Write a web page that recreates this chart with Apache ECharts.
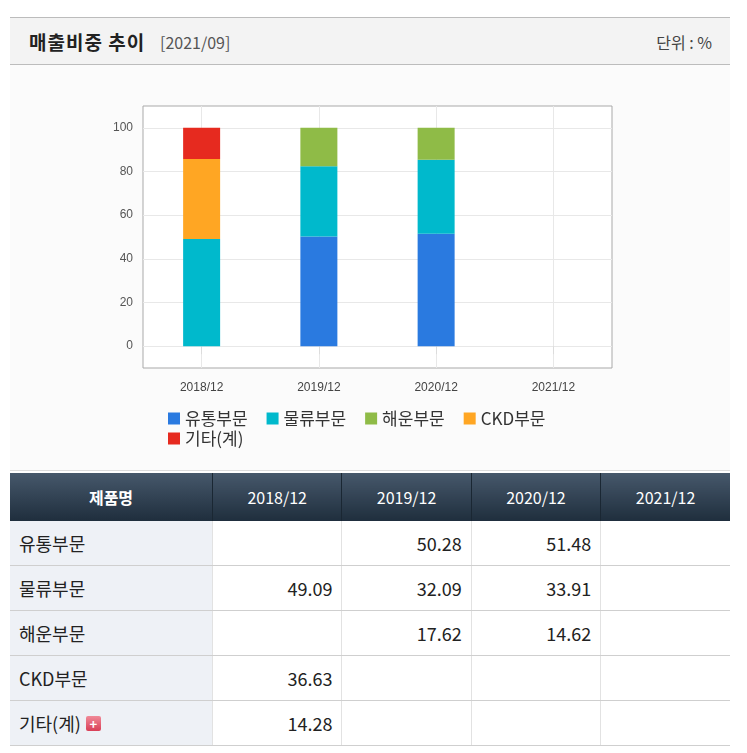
<!DOCTYPE html>
<html>
<head>
<meta charset="utf-8">
<script src="https://cdn.jsdelivr.net/npm/echarts@6/dist/echarts.min.js"></script>
<style>
  body { margin: 0; background: #fff; font-family: "Noto Sans CJK KR", "Noto Sans", sans-serif; }
  #head { position: absolute; left: 10px; top: 17px; width: 720px; height: 46px;
    background: #f3f3f3; border-top: 1px solid #bcbcbc; border-bottom: 1px solid #bcbcbc; }
  #head .t { position: absolute; left: 19px; top: 10px; font-size: 19px; font-weight: bold; color: #222; letter-spacing: 1px; }
  #head .d { position: absolute; left: 150px; top: 12px; font-size: 16px; color: #555; }
  #head .u { position: absolute; right: 18px; top: 12px; font-size: 16px; color: #444; }
  #main { position: absolute; left: 10px; top: 65px; width: 720px; height: 405px; background: #fbfbfb;
    border-bottom: 1px solid #dcdcdc; }
  table { position: absolute; left: 10px; top: 473px; width: 720px; border-collapse: collapse; table-layout: fixed; }
  th { height: 46px; color: #fff; font-size: 16px; font-weight: normal;
    background: linear-gradient(#46586b, #1f2e3d); border-left: 1px solid #1a2733; }
  th.n { font-weight: bold; }
  td { height: 44px; font-size: 18px; color: #222; text-align: right; padding: 0 9px;
    border-bottom: 1px solid #cfcfcf; border-left: 1px solid #e2e2e2; }
  td.n { text-align: left; background: #eef1f6; border-left: none; }
  .plus { display: inline-block; width: 15px; height: 15px; background: linear-gradient(#f08a98, #d93f57); color: #fff;
    font-size: 13px; font-weight: bold; line-height: 15px; text-align: center; vertical-align: 2px; margin-left: 5px; border-radius: 2px; }
</style>
</head>
<body>
<div id="head">
  <span class="t">매출비중 추이</span>
  <span class="d">[2021/09]</span>
  <span class="u">단위 : %</span>
</div>
<div id="main"></div>
<table id="tbl"></table>
<script>
var categories = ['2018/12', '2019/12', '2020/12', '2021/12'];
var seriesNames = ['유통부문', '물류부문', '해운부문', 'CKD부문', '기타(계)'];
var yutong = [null, 50.28, 51.48, null];
var mulryu = [49.09, 32.09, 33.91, null];
var haeun = [null, 17.62, 14.62, null];
var ckd = [36.63, null, null, null];
var gita = [14.28, null, null, null];
var colors = ['#2a7ae0', '#00b9cc', '#8fbb47', '#ffa623', '#e62a1f'];
var yTicks = [0, 20, 40, 60, 80, 100];

var values = [yutong, mulryu, haeun, ckd, gita];

// 표
var html = '<tr><th class="n" style="width:200px;border-left:none">제품명</th>';
categories.forEach(function (c) { html += '<th>' + c + '</th>'; });
html += '</tr>';
seriesNames.forEach(function (name, i) {
  html += '<tr><td class="n">' + name + (i === 4 ? '<span class="plus">+</span>' : '') + '</td>';
  values[i].forEach(function (v) { html += '<td>' + (v == null ? '' : v.toFixed(2)) + '</td>'; });
  html += '</tr>';
});
document.getElementById('tbl').innerHTML = html;

var legendBase = {
  icon: 'rect', itemWidth: 12, itemHeight: 12, itemGap: 19,
  textStyle: { fontSize: 17, color: '#333', fontFamily: 'Noto Sans CJK KR' }
};

var myChart = echarts.init(document.getElementById('main'));
myChart.setOption({
  animation: false,
  color: colors,
  grid: { left: 133, top: 41, width: 469, height: 262, show: true, backgroundColor: '#fff',
    borderColor: '#a9a9a9', borderWidth: 1 },
  legend: [
    Object.assign({ left: 153, top: 340, data: seriesNames.slice(0, 4) }, legendBase),
    Object.assign({ left: 153, top: 360, data: seriesNames.slice(4) }, legendBase)
  ],
  xAxis: [{
    type: 'category', data: categories,
    axisLine: { show: false },
    axisTick: { show: true, alignWithLabel: true, length: 8, lineStyle: { color: '#dcdcdc' } },
    axisLabel: { fontSize: 12, color: '#444', margin: 14 },
    splitLine: { show: false }
  }, {
    type: 'value', min: -0.5, max: 3.5, interval: 0.5, show: true, position: 'bottom',
    axisLine: { show: false }, axisTick: { show: false }, axisLabel: { show: false },
    splitLine: { show: true, lineStyle: { color: ['transparent', '#e8e8e8'] } }
  }],
  yAxis: {
    type: 'value', min: -10, max: 110, interval: 10,
    axisLine: { show: false }, axisTick: { show: false },
    axisLabel: { fontSize: 12, color: '#555', margin: 10,
      formatter: function (v) { return yTicks.indexOf(v) >= 0 ? String(v) : ''; } },
    splitLine: { lineStyle: { color: ['transparent', '#e8e8e8'] } }
  },
  series: seriesNames.map(function (name, i) {
    return { name: name, type: 'bar', stack: 'total', barWidth: 37, data: values[i] };
  })
});
</script>
</body>
</html>
